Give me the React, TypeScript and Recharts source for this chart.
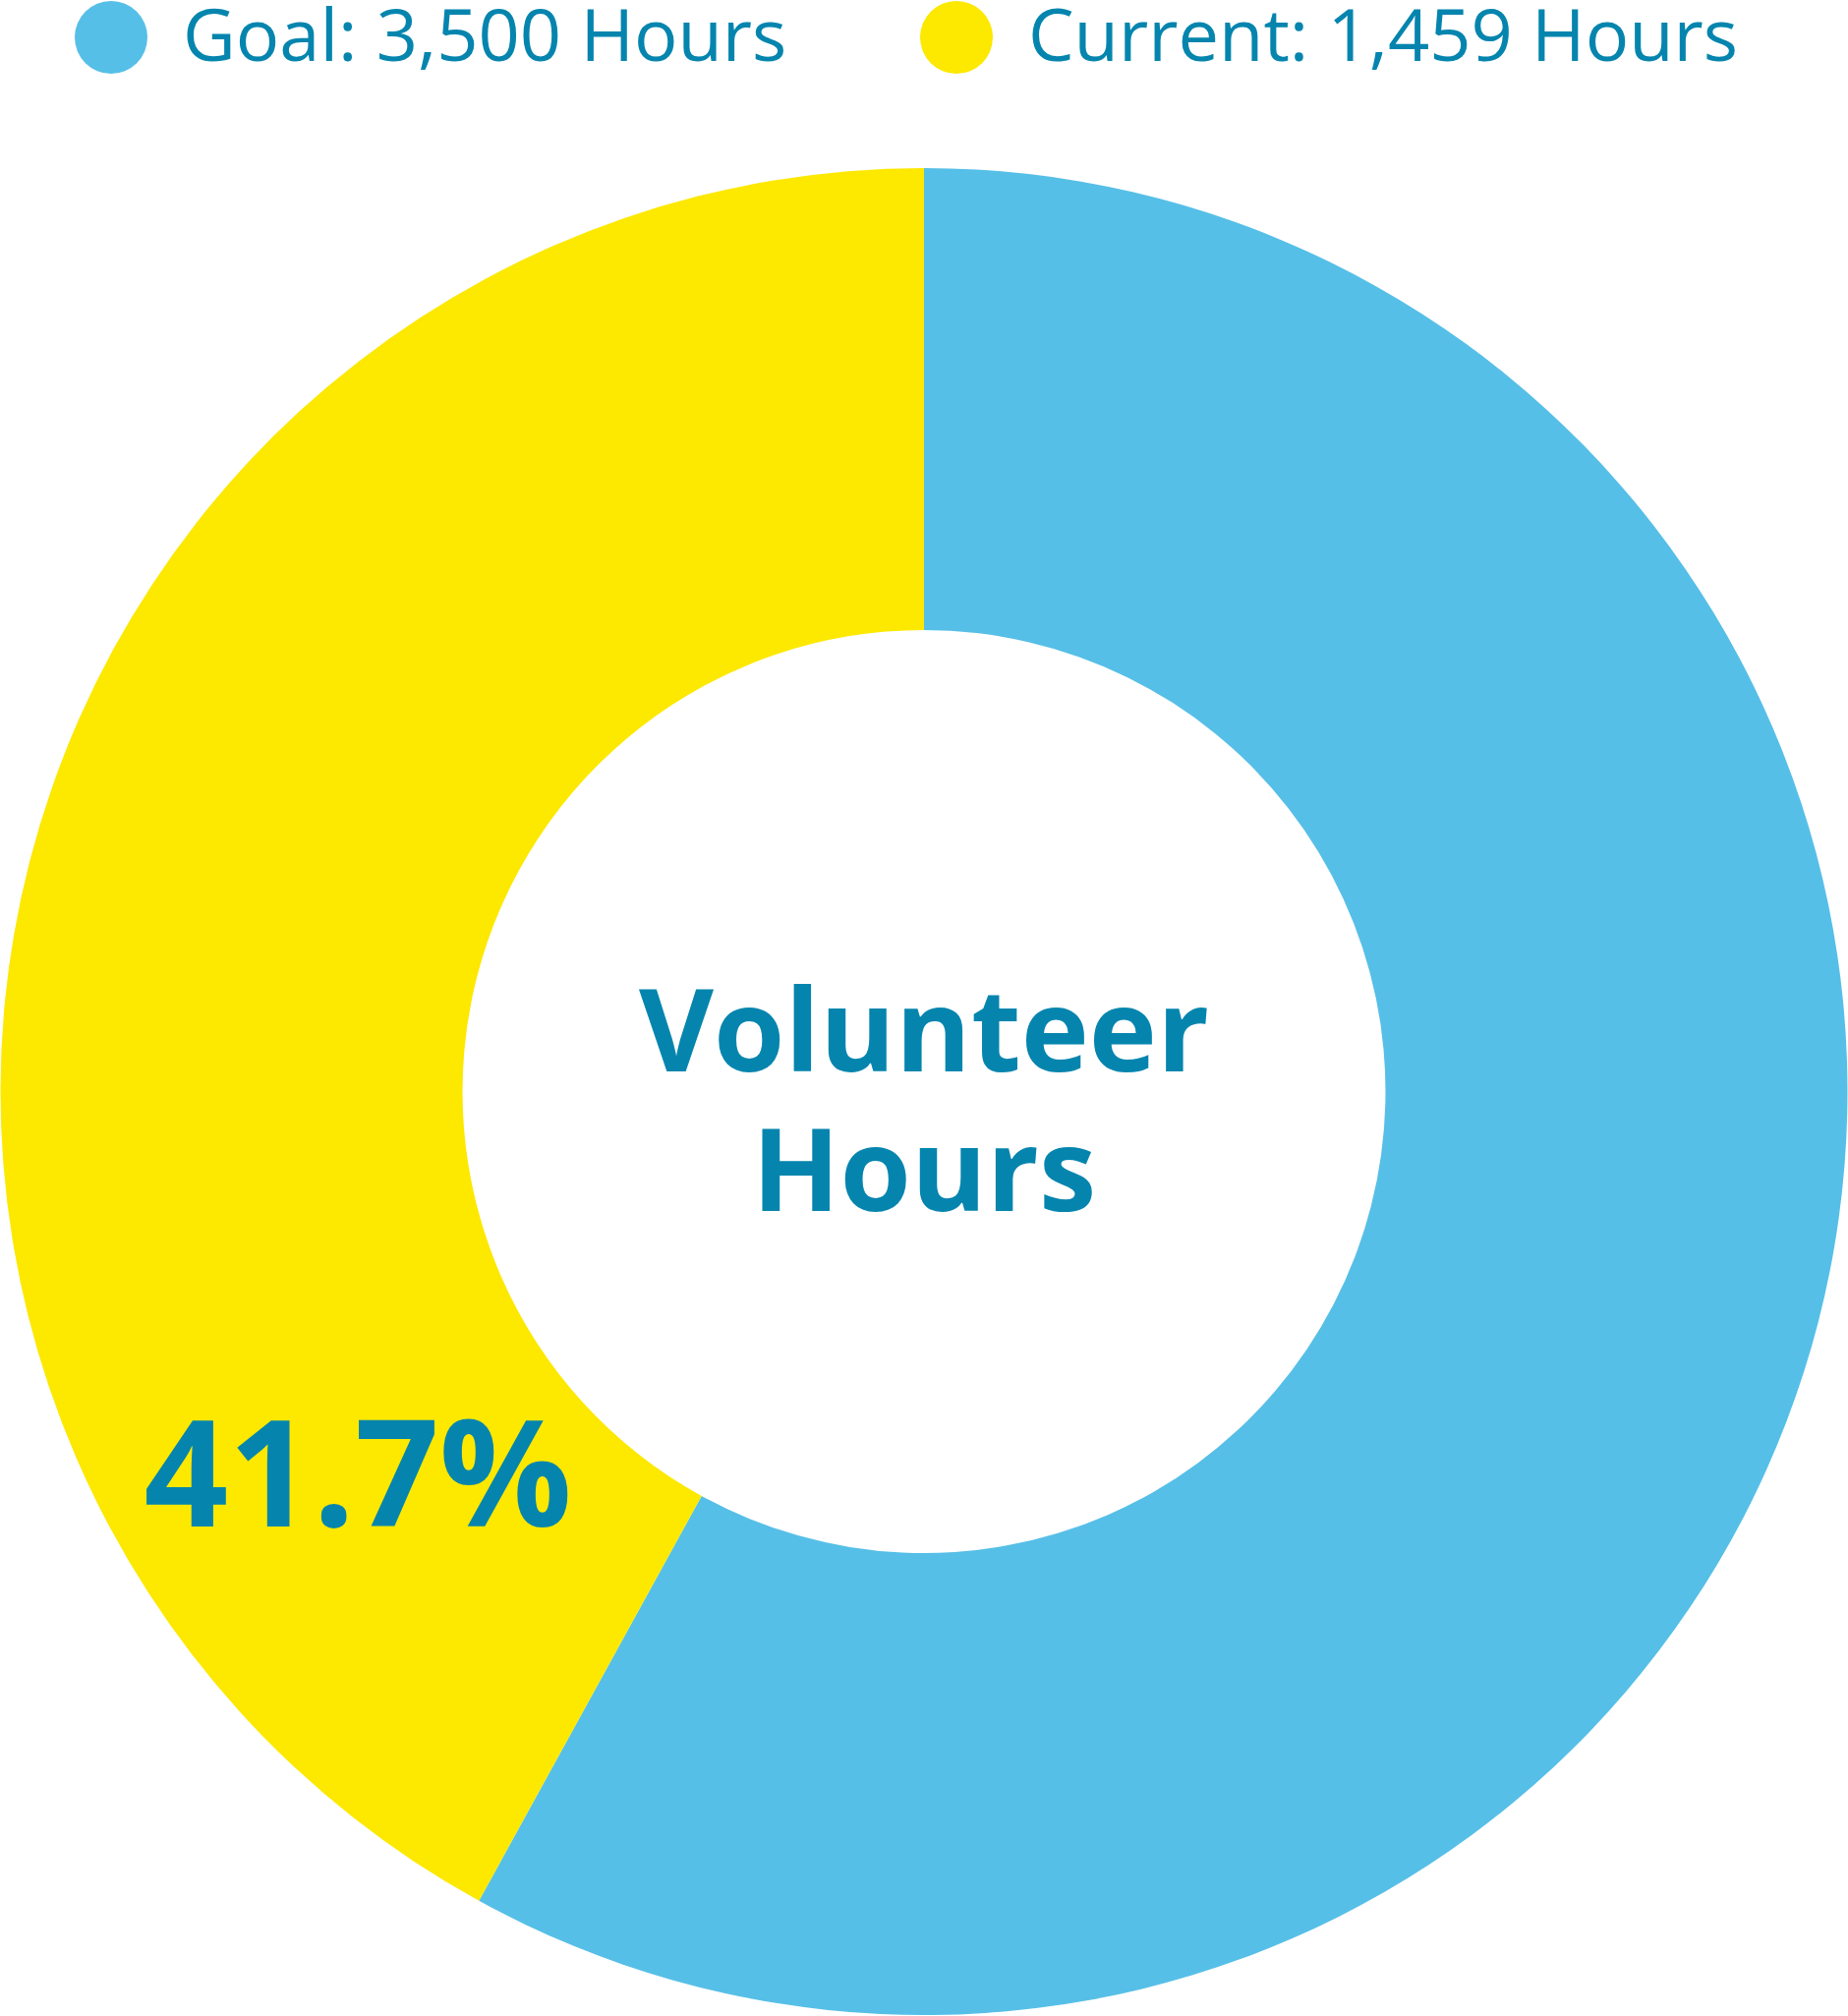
import { PieChart, Pie, Cell } from 'recharts';

const sliceNames = ['Goal', 'Current'];
const legendLabels = ['Goal: 3,500 Hours', 'Current: 1,459 Hours'];
const goalHours = 3500;
const currentHours = 1459;
// ring sizes: blue is what is left, yellow is what is done
const sliceValues = [2015, 1459];
const sliceColors = ['#56BFE7', '#FDE800'];
const centerLines = ['Volunteer', 'Hours'];

const textColor = '#0585AE';
const font = '"Open Sans", sans-serif';

const data = sliceNames.map((name, i) => ({ name, value: sliceValues[i], label: legendLabels[i] }));

const legendX = [76, 936];

const renderLabels = (props: any) => {
  const { cx, cy, index } = props;
  if (index === 0) {
    // centre title sits in the hole of the ring
    return (
      <text textAnchor="middle" fill={textColor} fontFamily={font} fontWeight={700} fontSize={117}>
        <tspan x={cx} y={cy - 21}>{centerLines[0]}</tspan>
        <tspan x={cx} y={cy + 121}>{centerLines[1]}</tspan>
      </text>
    );
  }
  const r = (props.innerRadius + props.outerRadius) / 2 - 10;
  const a = (214 * Math.PI) / 180;
  const x = cx + r * Math.cos(a);
  const y = cy - r * Math.sin(a);
  const pct = ((currentHours / goalHours) * 100).toFixed(1);
  return (
    <text x={x} y={y + 54} textAnchor="middle" fill={textColor} fontFamily={font} fontWeight={700} fontSize={150}>
      {pct}%
    </text>
  );
};

export default function App() {
  return (
    <div style={{ position: 'absolute', left: 0, top: 0, width: 1880, height: 2051, background: '#fff' }}>
      <svg width={1880} height={100} style={{ position: 'absolute', left: 0, top: 0, zIndex: 2 }}>
        {data.map((d, i) => (
          <g key={d.name}>
            <circle cx={legendX[i] + 37} cy={38} r={37} fill={sliceColors[i]} />
            <text x={legendX[i] + 110} y={62} fill={textColor} fontFamily={font} fontSize={74}>
              {d.label}
            </text>
          </g>
        ))}
      </svg>
      <PieChart width={1880} height={2051} margin={{ top: 0, right: 0, bottom: 0, left: 0 }}>
        <Pie
          data={data}
          dataKey="value"
          nameKey="name"
          cx={940}
          cy={1110.5}
          innerRadius={469.5}
          outerRadius={939.5}
          startAngle={90}
          endAngle={-270}
          stroke="none"
          label={renderLabels}
          labelLine={false}
          isAnimationActive={false}
        >
          {data.map((d, i) => (
            <Cell key={d.name} fill={sliceColors[i]} stroke="none" />
          ))}
        </Pie>
      </PieChart>
    </div>
  );
}
